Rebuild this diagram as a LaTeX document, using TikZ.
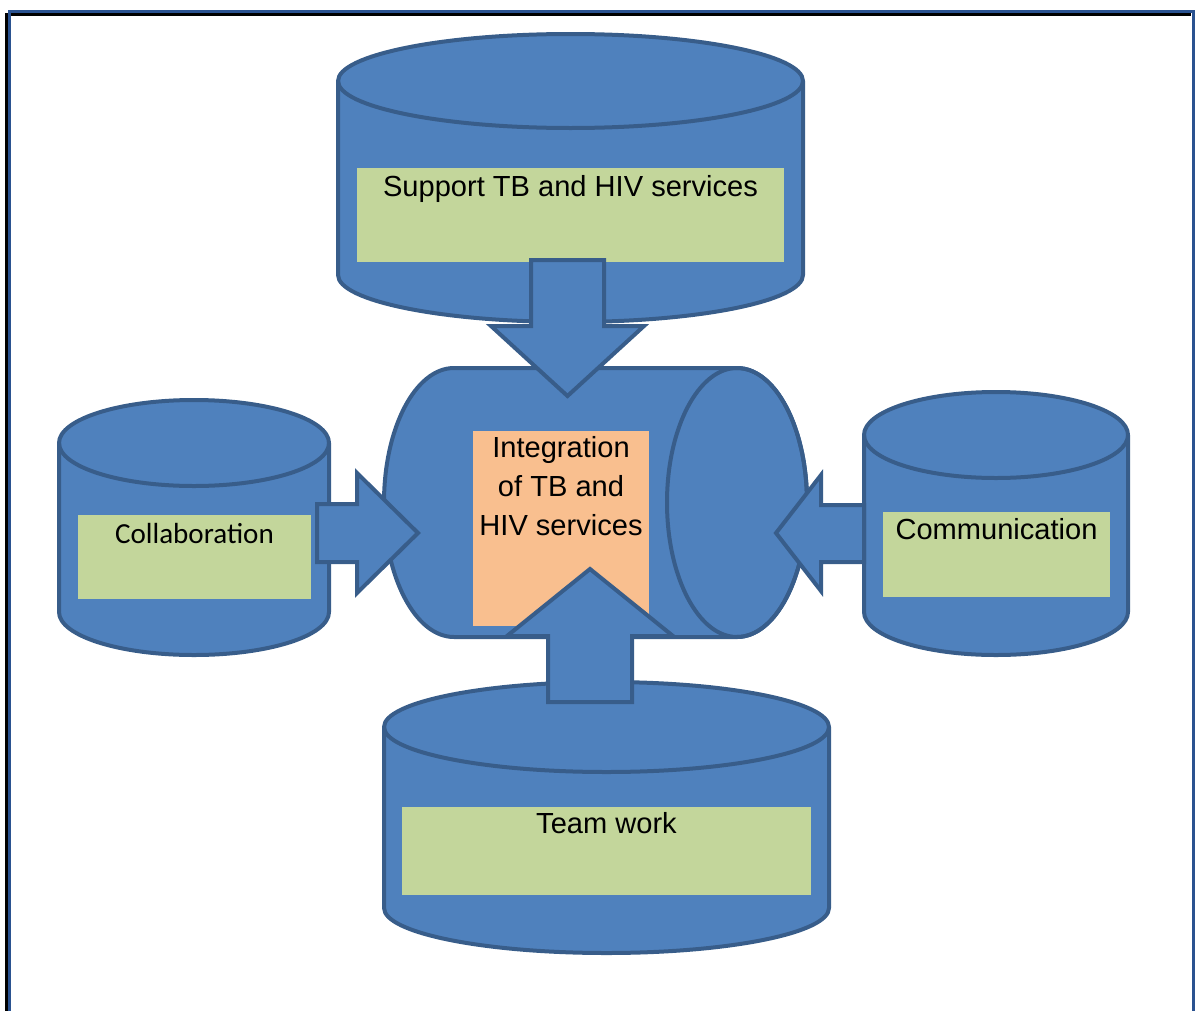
\documentclass[tikz,border=0pt]{standalone}
\usepackage{fontspec}
\setmainfont{Liberation Sans}
\newfontfamily\carlito{Carlito}
\definecolor{drumfill}{HTML}{4F81BD}
\definecolor{drumline}{HTML}{385D8A}
\definecolor{boxgreen}{HTML}{C3D69B}
\definecolor{boxorange}{HTML}{F9BF8F}
\definecolor{frameblue}{HTML}{2A5290}

\begin{document}
\begin{tikzpicture}[x=0.75pt, y=0.75pt, yscale=-1,
    drum/.style={fill=drumfill, draw=drumline, line width=3pt, line join=round},
    blockarrow/.style={fill=drumfill, draw=drumline, line width=3pt, line join=miter},
    caption/.style={font=\fontsize{21.8}{28.9}\selectfont, inner sep=0pt, anchor=base}]
      \useasboundingbox (0,0) rectangle (1195,1010);

      % page frame with its shadow
      \draw[black, line width=1.9pt]     (6.5,1012) -- (6.5,14.5) -- (1191,14.5);
      \draw[frameblue, line width=2.6pt] (9.5,1012) -- (9.5,11.5) -- (1193.5,11.5) -- (1193.5,1012);

      % upright drums: body, then the front rim of the lid
      \draw[drum] (338,81) -- (338,275) arc (180:0:232.5 and 47) -- (803,81) arc (0:-180:232.5 and 47) -- cycle;
      \draw[drum, fill=none] (338,81) arc (180:0:232.5 and 47);   % support

      \draw[drum] (59,443) -- (59,612) arc (180:0:135 and 43) -- (329,443) arc (0:-180:135 and 43) -- cycle;
      \draw[drum, fill=none] (59,443) arc (180:0:135 and 43);     % collaboration

      \draw[drum] (864,435) -- (864,612) arc (180:0:132 and 43) -- (1128,435) arc (0:-180:132 and 43) -- cycle;
      \draw[drum, fill=none] (864,435) arc (180:0:132 and 43);    % communication

      \draw[drum] (384,727) -- (384,908) arc (180:0:222.5 and 45) -- (829,727) arc (0:-180:222.5 and 45) -- cycle;
      \draw[drum, fill=none] (384,727) arc (180:0:222.5 and 45);  % team work

      \fill[boxgreen] (357,168) rectangle (784,262);
      \fill[boxgreen] (78,515)  rectangle (311,599);
      \fill[boxgreen] (883,512) rectangle (1110,597);
      \fill[boxgreen] (402,807) rectangle (811,895);

      \node[caption] (support) at (570.5,196) {Support TB and HIV services};
      \node[caption, font=\carlito\fontsize{21.8}{28.9}\selectfont] (collab) at (194.5,543) {Collaboration};
      \node[caption] (comm)    at (996.5,539) {Communication};
      \node[caption] (team)    at (606.5,833) {Team work};

      % lying drum in the middle
      \draw[drum] (454,368) -- (737,368) arc (-90:90:70 and 134.5) -- (454,637) arc (90:270:70 and 134.5) -- cycle;
      \draw[drum, fill=none] (737,502.5) ellipse (70 and 134.5);
      \fill[boxorange] (473,431) rectangle (649,626);
      \node[caption, align=center] (integ) at (561,535) {Integration\\of TB and\\HIV services}; % base = last line

      % block arrows into the middle drum
      \draw[blockarrow] (531,260) -- (604,260) -- (604,326) -- (644,326) -- (567.5,396) -- (491,326) -- (531,326) -- cycle;
      \draw[blockarrow] (317,504) -- (357,504) -- (357,473) -- (418,533) -- (357,593) -- (357,562) -- (317,562) -- cycle;
      \draw[blockarrow] (864,505) -- (821,505) -- (821,475) -- (776,533) -- (821,591) -- (821,562) -- (864,562) -- cycle;
      \draw[blockarrow] (548,702) -- (548,636) -- (507,636) -- (590,569) -- (673,636) -- (632,636) -- (632,702) -- cycle;
    \end{tikzpicture}
\end{document}
